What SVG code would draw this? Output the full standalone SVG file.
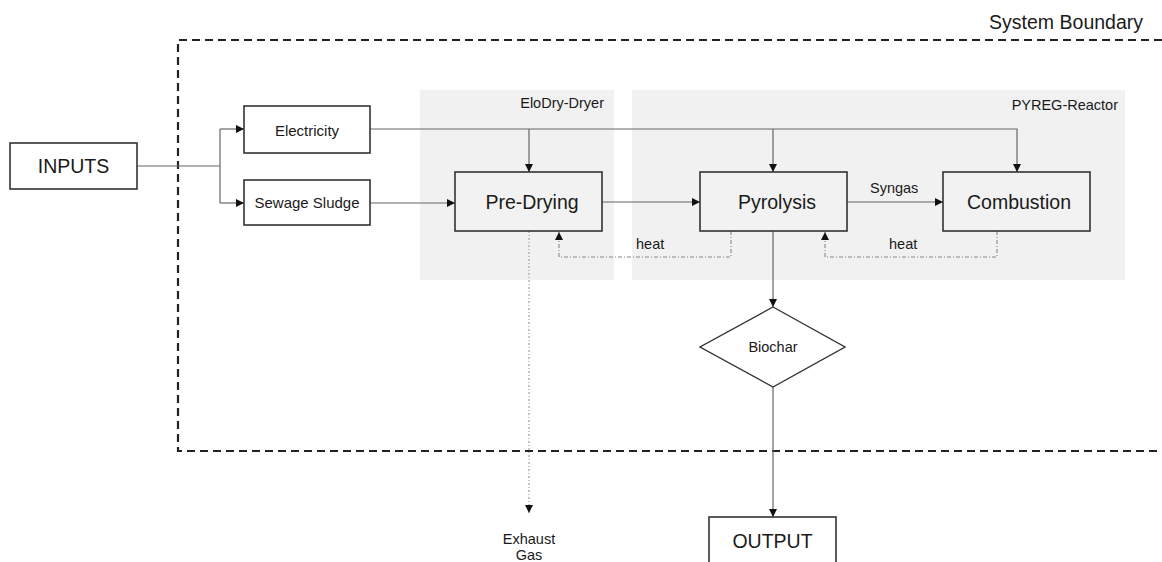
<svg xmlns="http://www.w3.org/2000/svg" width="1162" height="562" viewBox="0 0 1162 562">
<style>
text{font-family:"Liberation Sans",Arial,sans-serif;fill:#1a1a1a}
.box{fill:#fff;stroke:#333;stroke-width:1.6}
.pbox{fill:#f2f2f2;stroke:#333;stroke-width:1.6}
.region{fill:#f1f1f1}
.c{fill:none;stroke:#666;stroke-width:1.2}
.h{fill:none;stroke:#888;stroke-width:1.1;stroke-dasharray:4 2 1 2}
.x{fill:none;stroke:#999;stroke-width:1.1;stroke-dasharray:2 2 1 2}
.big{font-size:19.5px}
.mid{font-size:15px}
.sm{font-size:14.5px}
</style>
<defs>
<marker id="ah" viewBox="0 0 10 10" refX="10" refY="5" markerWidth="8" markerHeight="8" markerUnits="userSpaceOnUse" orient="auto">
<path d="M0,0 L10,5 L0,10 z" fill="#111"/>
</marker>
</defs>
<g id="boundary">
<path d="M1162,40 H178 V451 H1162" fill="none" stroke="#222" stroke-width="2.2" stroke-dasharray="8 5"/>
<text x="1143" y="29" font-size="19.5" text-anchor="end">System Boundary</text>
</g>
<g id="elodry">
<rect class="region" x="420" y="90" width="194" height="190"/>
<text x="604" y="108" class="sm" text-anchor="end" fill="#333">EloDry-Dryer</text>
</g>
<g id="pyreg">
<rect class="region" x="632" y="90" width="493" height="190"/>
<text x="1118" y="110" class="sm" text-anchor="end" fill="#333">PYREG-Reactor</text>
</g>
<g id="connectors">
<path class="c" d="M137,166 H220"/>
<path class="c" d="M220,129 V203"/>
<path class="c" d="M220,129 H244" marker-end="url(#ah)"/>
<path class="c" d="M220,203 H244" marker-end="url(#ah)"/>
<path class="c" d="M370,129 H1017 V172" marker-end="url(#ah)"/>
<path class="c" d="M529,129 V172" marker-end="url(#ah)"/>
<path class="c" d="M773,129 V172" marker-end="url(#ah)"/>
<path class="c" d="M370,203 H455" marker-end="url(#ah)"/>
<path class="c" d="M602,202 H700" marker-end="url(#ah)"/>
<path class="c" d="M847,202 H943" marker-end="url(#ah)"/>
<text x="870" y="193" class="sm">Syngas</text>
<path class="h" d="M731,231 V257 H559 V232" marker-end="url(#ah)"/>
<text x="636" y="249" class="sm">heat</text>
<path class="h" d="M997,231 V257 H825 V232" marker-end="url(#ah)"/>
<text x="889" y="249" class="sm">heat</text>
<path class="x" d="M529,231 V513" marker-end="url(#ah)"/>
<path class="c" d="M773,231 V307" marker-end="url(#ah)"/>
<path class="c" d="M773,387 V517" marker-end="url(#ah)"/>
</g>
<g id="inputs">
<rect class="box" x="10" y="143" width="127" height="46"/>
<text x="73.5" y="173" class="big" text-anchor="middle">INPUTS</text>
</g>
<g id="electricity">
<rect class="box" x="244" y="106" width="126" height="47"/>
<text x="307" y="136" class="mid" text-anchor="middle">Electricity</text>
</g>
<g id="sludge">
<rect class="box" x="244" y="180" width="126" height="45"/>
<text x="307" y="208" class="mid" text-anchor="middle">Sewage Sludge</text>
</g>
<g id="predrying">
<rect class="pbox" x="455" y="172" width="147" height="59"/>
<text x="532" y="209" class="big" text-anchor="middle">Pre-Drying</text>
</g>
<g id="pyrolysis">
<rect class="pbox" x="700" y="172" width="147" height="59"/>
<text x="777" y="209" class="big" text-anchor="middle">Pyrolysis</text>
</g>
<g id="combustion">
<rect class="pbox" x="943" y="172" width="147" height="59"/>
<text x="1019" y="209" class="big" text-anchor="middle">Combustion</text>
</g>
<g id="biochar">
<path d="M773,307 L845,347 L773,387 L700,347 Z" fill="#fff" stroke="#333" stroke-width="1.4"/>
<text x="773" y="352" class="sm" text-anchor="middle">Biochar</text>
</g>
<g id="exhaust">
<text x="529" y="544" class="sm" text-anchor="middle">Exhaust</text>
<text x="529" y="560" class="sm" text-anchor="middle">Gas</text>
</g>
<g id="output">
<rect class="box" x="709" y="517" width="127" height="60"/>
<text x="772.5" y="548" class="big" text-anchor="middle">OUTPUT</text>
</g>
</svg>
